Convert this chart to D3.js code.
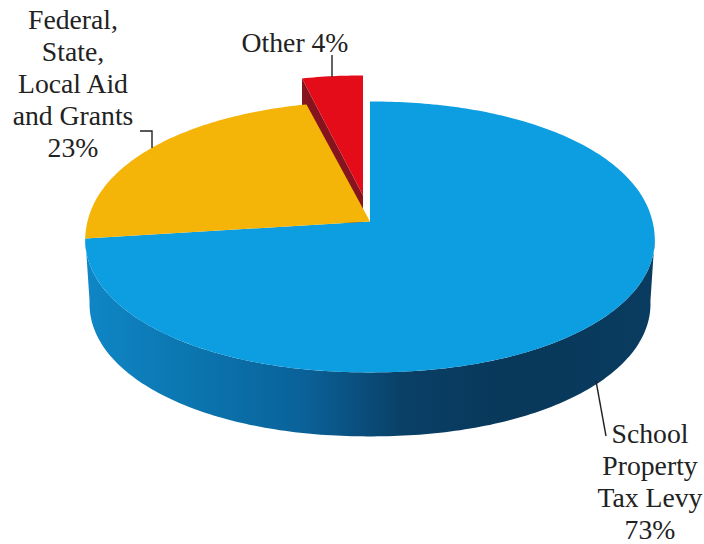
<!DOCTYPE html>
<html>
<head>
<meta charset="utf-8">
<script src="https://cdn.jsdelivr.net/npm/d3@7/dist/d3.min.js"></script>
<style>
html, body { margin: 0; padding: 0; background: #fff; }
svg { display: block; }
text { font-family: "Liberation Serif", serif; font-size: 27.7px; fill: #222; text-anchor: middle; }
</style>
</head>
<body>
<svg id="chart" width="704" height="544"></svg>
<script>
// Revenue sources, in drawing order clockwise from twelve o'clock.
const categories = ["School Property Tax Levy", "Federal, State, Local Aid and Grants", "Other"];
const shares = [73, 23, 4];
const faceColors = ["#0c9ee0", "#f5b408", "#e30c18"];
const wallColors = ["#0a4a75", "#a87a05", "#85141f"];
const labelLines = [
  ["School", "Property", "Tax Levy", "73%"],
  ["Federal,", "State,", "Local Aid", "and Grants", "23%"],
  ["Other 4%"]
];

const svg = d3.select("#chart");

// Tilted disc: a slightly squared circle seen in perspective, so the hub sits above the ellipse centre.
const hub = { x: 370, y: 221.5 };
const tilt = -0.114, spreadX = 282.5, spreadY = 133.7;
const squareness = 2.08;
const depth = 64;

function project(angle, shift = { x: 0, y: 0 }, narrow = 1) {
  const s = Math.sin(angle), c = -Math.cos(angle);
  const r = Math.pow(Math.pow(Math.abs(s), squareness) + Math.pow(Math.abs(c), squareness), -1 / squareness);
  const u = s * r, v = c * r;
  const w = 1 + tilt * v;
  return [hub.x + shift.x + narrow * spreadX * u / w, hub.y + shift.y + spreadY * v / w];
}

const line = d3.line();
const pie = d3.pie().sort(null).value(d => d);
const slices = pie(shares);

function rim(a0, a1, shift, narrow) {
  const n = Math.max(2, Math.ceil(Math.abs(a1 - a0) * 60));
  return d3.range(n + 1).map(i => project(a0 + (a1 - a0) * i / n, shift, narrow));
}

const defs = svg.append("defs");
const wallGrad = defs.append("linearGradient")
  .attr("id", "wall").attr("gradientUnits", "userSpaceOnUse")
  .attr("x1", 86).attr("x2", 655).attr("y1", 0).attr("y2", 0);
[[0, "#0f86c6"], [0.2, "#0b74ad"], [0.38, "#0a629a"], [0.56, "#0a3f66"], [0.75, "#08385a"], [1, "#093c60"]]
  .forEach(([o, c]) => wallGrad.append("stop").attr("offset", o).attr("stop-color", c));

// Side wall of the large slice: silhouette points of the top and lower rims joined straight.
const lowShift = { x: 0, y: depth };
const lowNarrow = 0.985;
const frontStart = Math.acos(tilt), frontEnd = 2 * Math.PI - frontStart;
svg.append("path")
  .attr("fill", "url(#wall)")
  .attr("d", line([
    ...rim(frontStart, frontEnd),
    ...rim(frontEnd, frontStart, lowShift, lowNarrow)
  ]) + "Z");

// Pulled-out slice comes first so the neighbouring face overlaps its wall.
const pulled = { x: -7, y: -26 };
const pulledNarrow = 0.96;
const other = slices[2];
const otherHub = [hub.x + pulled.x, hub.y + pulled.y];
const otherEdge = project(other.startAngle, pulled, pulledNarrow);
svg.append("path")
  .attr("fill", wallColors[2])
  .attr("d", line([
    otherHub, otherEdge,
    [otherEdge[0], otherEdge[1] + depth],
    [otherHub[0], otherHub[1] + depth]
  ]) + "Z");
svg.append("path")
  .attr("fill", faceColors[2])
  .attr("d", line([otherHub, ...rim(other.startAngle, other.endAngle, pulled, pulledNarrow)]) + "Z");

// Top faces of the two seated slices.
slices.slice(0, 2).forEach((s, i) => {
  svg.append("path")
    .attr("fill", faceColors[i])
    .attr("d", line([[hub.x, hub.y], ...rim(s.startAngle, s.endAngle)]) + "Z");
});

// Leader lines.
const leaders = [
  [[596, 381], [606, 436]],
  [[140, 131], [152, 131], [152, 148]],
  [[332, 55], [332, 77]]
];
leaders.forEach(pts => svg.append("path")
  .attr("fill", "none").attr("stroke", "#222").attr("stroke-width", 1.4)
  .attr("d", line(pts)));

// Labels, one text block per category.
const labelAnchors = [{ x: 650, y: 443 }, { x: 73, y: 29 }, { x: 295, y: 52 }];
const lineStep = 32;
labelLines.forEach((lines, i) => {
  svg.append("g").attr("aria-label", categories[i])
    .selectAll("text").data(lines).join("text")
    .attr("x", labelAnchors[i].x)
    .attr("y", (d, j) => labelAnchors[i].y + j * lineStep)
    .text(d => d);
});
</script>
</body>
</html>
